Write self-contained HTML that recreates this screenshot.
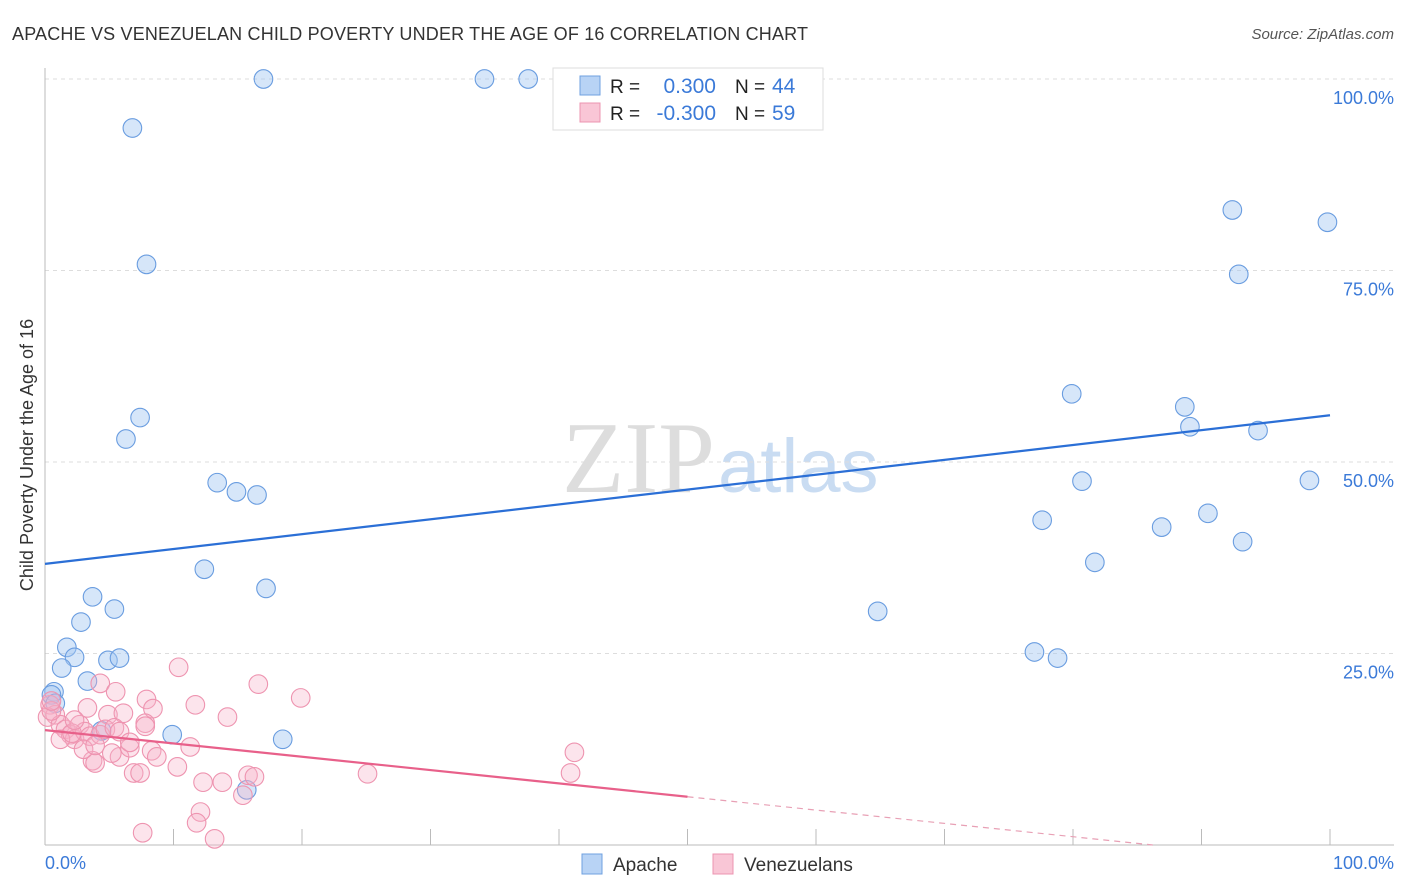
<!DOCTYPE html>
<html><head><meta charset="utf-8"><style>
body{margin:0;background:#fff;font-family:"Liberation Sans",sans-serif;}
svg{display:block}
</style></head><body>
<svg id="chart" width="1406" height="892">
<text x="12" y="40" font-size="18" fill="#333" textLength="796">APACHE VS VENEZUELAN CHILD POVERTY UNDER THE AGE OF 16 CORRELATION CHART</text>
<text x="1394" y="39" font-size="15" fill="#555" font-style="italic" text-anchor="end">Source: ZipAtlas.com</text>
<text x="715" y="492" font-size="102" fill="#ddd" text-anchor="end" font-family="Liberation Serif">ZIP</text>
<text x="718" y="492" font-size="76" fill="#c9dcf2">atlas</text>
<g id="grid"></g><g id="axes"></g><g id="pts"></g><g id="lines"></g>
<text transform="translate(33,455) rotate(-90)" font-size="18" fill="#333" text-anchor="middle">Child Poverty Under the Age of 16</text>
<text x="45" y="869" font-size="18" fill="#3b7ad8">0.0%</text>
<text x="1394" y="869" font-size="18" fill="#3b7ad8" text-anchor="end">100.0%</text>
<g>
<rect x="553" y="68" width="270" height="62" fill="#fff" stroke="#ddd"/>
<rect x="580" y="76" width="20" height="19" fill="#b8d3f5" stroke="#6fa0e0"/>
<rect x="580" y="103" width="20" height="19" fill="#f9c6d6" stroke="#ec94b0"/>
<text x="610" y="93" font-size="19" fill="#222">R =</text><text x="716" y="93" font-size="21" fill="#3b7ad8" text-anchor="end">0.300</text>
<text x="735" y="93" font-size="19" fill="#222">N =</text><text x="772" y="93" font-size="21" fill="#3b7ad8">44</text>
<text x="610" y="120" font-size="19" fill="#222">R =</text><text x="716" y="120" font-size="21" fill="#3b7ad8" text-anchor="end">-0.300</text>
<text x="735" y="120" font-size="19" fill="#222">N =</text><text x="772" y="120" font-size="21" fill="#3b7ad8">59</text>
</g>
<g>
<rect x="582" y="854" width="20" height="20" fill="#b8d3f5" stroke="#6fa0e0"/>
<text x="613" y="871" font-size="19" fill="#333">Apache</text>
<rect x="713" y="854" width="20" height="20" fill="#f9c6d6" stroke="#ec94b0"/>
<text x="744" y="871" font-size="19" fill="#333">Venezuelans</text>
</g>
</svg>
<script>
const yTicks=[25,50,75,100];
const yTickLabels=["25.0%","50.0%","75.0%","100.0%"];
const apacheX=[17,34.2,37.6,6.8,7.9,7.4,6.3,13.4,14.9,16.5,12.4,17.2,3.7,5.4,2.8,1.7,2.3,1.3,4.9,5.8,3.3,0.7,0.5,0.8,4.4,9.9,18.5,15.7,92.4,99.8,92.9,79.9,88.7,89.1,94.4,80.7,98.4,77.6,86.9,90.5,93.2,81.7,64.8,77,78.8];
const apacheY=[100,100,100,93.6,75.8,55.8,53,47.3,46.1,45.7,36,33.5,32.4,30.8,29.1,25.8,24.5,23.1,24.1,24.4,21.4,20,19.6,18.5,14.9,14.4,13.8,7.2,82.9,81.3,74.5,58.9,57.2,54.6,54.1,47.5,47.6,42.4,41.5,43.3,39.6,36.9,30.5,25.2,24.4];
const venX=[10.4,16.6,19.9,4.3,5.5,3.3,4.9,6.1,7.9,8.4,11.7,14.2,7.8,11.3,10.3,8.3,8.7,3.7,3.9,5.8,5.2,6.6,6.9,7.4,12.3,13.8,15.8,16.3,15.4,12.1,11.8,7.6,13.2,25.1,0.4,0.8,0.2,1.2,1.6,2,2.3,2.7,3.1,3.5,4.3,4.7,5.4,5.8,1.2,2.1,3,41.2,40.9,2.3,3.9,6.6,7.8,0.5,0.5];
const venY=[23.2,21,19.2,21.1,20,17.9,17,17.2,19,17.8,18.3,16.7,15.9,12.8,10.2,12.3,11.5,11,10.7,11.5,12,12.7,9.4,9.4,8.2,8.2,9.1,8.9,6.5,4.3,2.9,1.6,0.8,9.3,18.3,17,16.7,15.7,15.1,14.4,13.8,15.7,14.8,14.2,14.4,15.1,15.3,14.8,13.8,14.6,12.5,12.1,9.4,16.3,13,13.4,15.5,17.5,18.8];
const apacheLine=[36.7,56.1];
const venLine=[15.0,-2.4];
const X=v=>45+v*12.85, Y=v=>845-v*7.66;
const NS="http://www.w3.org/2000/svg";
function mk(tag,attrs,parent){const e=document.createElementNS(NS,tag);for(const k in attrs)e.setAttribute(k,attrs[k]);document.getElementById(parent).appendChild(e);return e;}
yTicks.forEach((t,i)=>{
 const g=mk('line',{x1:45,x2:1394,y1:Y(t),y2:Y(t),stroke:'#ddd','stroke-dasharray':'4,4'},'grid');
 
 
 const l=mk('text',{x:1394,y:Y(t)+25,'font-size':18,fill:'#3b7ad8','text-anchor':'end'},'grid');
 l.textContent=yTickLabels[i];
 
 
});
const ax=mk('line',{x1:45,x2:45,y1:68,y2:845,stroke:'#bbb'},'axes');


const bx=mk('line',{x1:45,x2:1394,y1:845,y2:845,stroke:'#bbb'},'axes');


for(let i=1;i<=10;i++){const t=mk('line',{x1:X(i*10),x2:X(i*10),y1:829,y2:845,stroke:'#bbb'},'axes');
 
 }
apacheX.forEach((x,i)=>{const c=mk('circle',{cx:X(x),cy:Y(apacheY[i]),r:9.3,fill:'rgba(165,199,242,0.45)',stroke:'#6a9de0','stroke-width':1.1},'pts');
 
 });
venX.forEach((x,i)=>{const c=mk('circle',{cx:X(x),cy:Y(venY[i]),r:9.3,fill:'rgba(246,178,200,0.35)',stroke:'#ee94b0','stroke-width':1.1},'pts');
 
 });
const bl=mk('line',{x1:X(0),y1:Y(apacheLine[0]),x2:X(100),y2:Y(apacheLine[1]),stroke:'#2b6fd6','stroke-width':2.2},'lines');


const vm=v=>venLine[0]+(venLine[1]-venLine[0])*v/100;
const pl=mk('line',{x1:X(0),y1:Y(vm(0)),x2:X(50),y2:Y(vm(50)),stroke:'#e8608a','stroke-width':2.2},'lines');


const xz=-venLine[0]/(venLine[1]-venLine[0])*100;
const pd=mk('line',{x1:X(50),y1:Y(vm(50)),x2:X(xz),y2:Y(0),stroke:'#e8a0b5','stroke-width':1.2,'stroke-dasharray':'6,5'},'lines');


</script>
</body></html>
